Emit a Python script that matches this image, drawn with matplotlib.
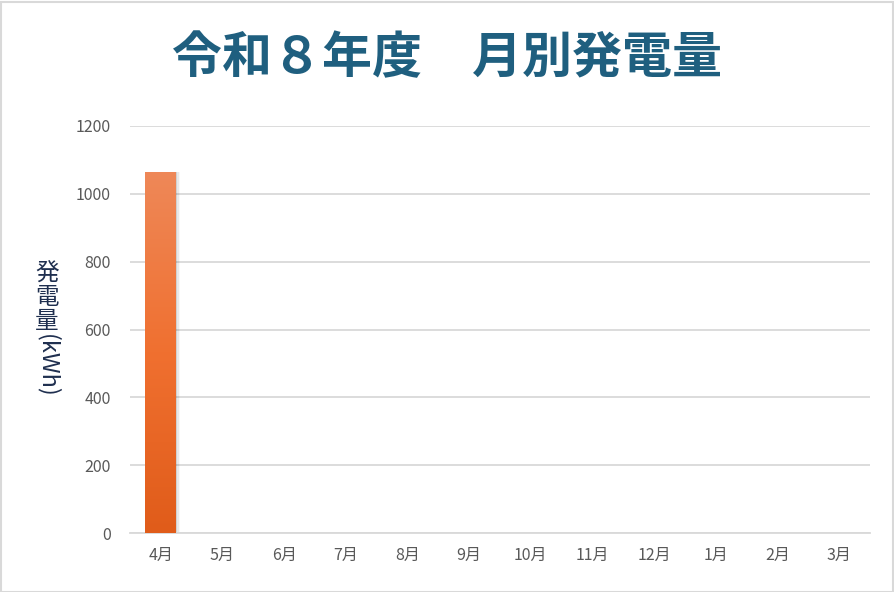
import matplotlib.pyplot as plt
import numpy as np
from matplotlib.colors import LinearSegmentedColormap
from matplotlib.patches import Rectangle

plt.rcParams['font.family'] = ['Noto Sans CJK JP', 'DejaVu Sans']

months = ["4月", "5月", "6月", "7月", "8月", "9月", "10月", "11月", "12月", "1月", "2月", "3月"]
energy = [1065, 0, 0, 0, 0, 0, 0, 0, 0, 0, 0, 0]
yticks = [0, 200, 400, 600, 800, 1000, 1200]

W, H = 894, 592
fig = plt.figure(figsize=(W / 100, H / 100), dpi=100)
ax = fig.add_axes([130 / W, 59 / H, 740 / W, 407 / H])

x = np.arange(len(months))
bars = ax.bar(x, energy, width=0.5, color="#EC7030", zorder=3)

# vertical gradient inside the bars
grad = LinearSegmentedColormap.from_list("g", ["#E05C1A", "#F07030", "#EE8858"])
img = np.linspace(0, 1, 256).reshape(-1, 1)
for b in bars:
    if b.get_height() <= 0:
        continue
    x0, w, h = b.get_x(), b.get_width(), b.get_height()
    # soft shadow on the right
    for i, a in enumerate([0.10, 0.06, 0.03]):
        ax.add_patch(Rectangle((x0 + w, 0), 0.02 * (i + 1), h, color="black",
                               alpha=a, lw=0, zorder=2))
    im = ax.imshow(img, extent=(x0, x0 + w, 0, h), origin="lower", cmap=grad,
                   aspect="auto", zorder=4)
    im.set_clip_path(b)

ax.set_xlim(-0.5, len(months) - 0.5)
ax.set_ylim(0, 1200)
ax.set_yticks(yticks)
ax.set_xticks(x)
ax.set_xticklabels(months)
ax.grid(axis="y", color="#D9D9D9", linewidth=1.3, zorder=0)
ax.set_axisbelow(True)
for s in ["top", "right", "left"]:
    ax.spines[s].set_visible(False)
ax.spines["bottom"].set_color("#D9D9D9")
ax.spines["bottom"].set_linewidth(1.3)
ax.tick_params(length=0, colors="#595959", labelsize=11.5)
ax.tick_params(axis="y", pad=14)
ax.tick_params(axis="x", pad=10)

fig.text(447 / W, 1 - 59 / H, "令和８年度　月別発電量", ha="center", va="center",
         fontsize=36, fontweight="bold", color="#1F5F7F")

# vertical axis title: upright kanji, rotated (kWh)
for ch, yy in zip("発電量", [274, 298, 321]):
    fig.text(47 / W, 1 - yy / H, ch, ha="center", va="center", fontsize=17, color="#1F2F4F")
fig.text(47 / W, 1 - 366 / H, "(kWh)", ha="center", va="center", rotation=-90,
         fontsize=17, color="#1F2F4F")

fig.add_artist(Rectangle((0.5 / W, 0.5 / H), 1 - 2 / W, 1 - 2 / H,
                         transform=fig.transFigure, fill=False, ec="#D9D9D9", lw=1.5))

fig.savefig("out.png", dpi=100, facecolor="white")
